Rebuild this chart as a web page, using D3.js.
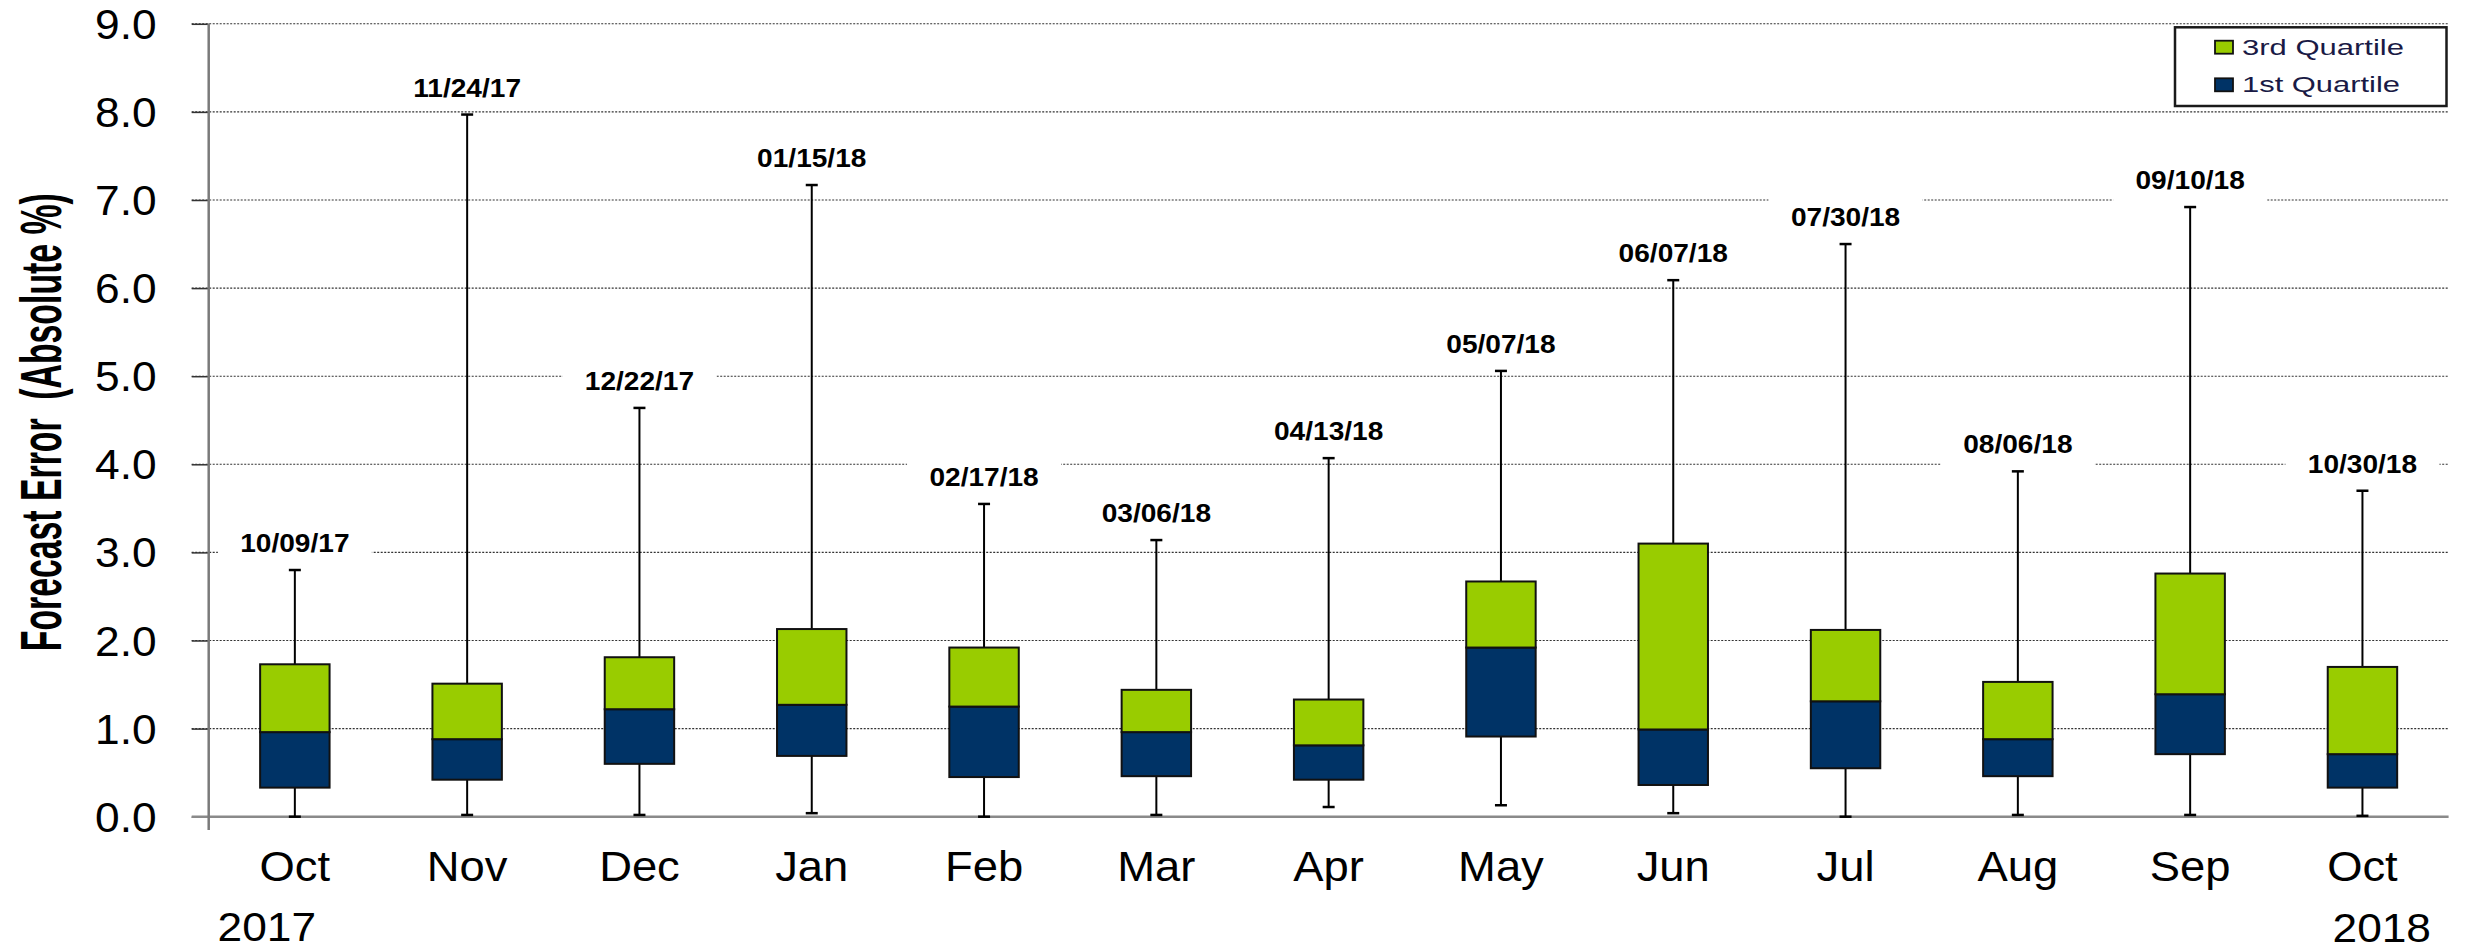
<!DOCTYPE html>
<html>
<head>
<meta charset="utf-8">
<script src="https://cdn.jsdelivr.net/npm/d3@7"></script>
<style>
  html, body { margin: 0; padding: 0; background: #fff; }
  svg { display: block; }
  text { font-family: "Liberation Sans", Arial, sans-serif; }
</style>
</head>
<body>
<svg id="chart" width="2466" height="952"></svg>
<script>
// ---- data ----
const months = ["Oct","Nov","Dec","Jan","Feb","Mar","Apr","May","Jun","Jul","Aug","Sep","Oct"];
const maxDates = ["10/09/17","11/24/17","12/22/17","01/15/18","02/17/18","03/06/18","04/13/18","05/07/18","06/07/18","07/30/18","08/06/18","09/10/18","10/30/18"];
const minVals    = [0.00, 0.02, 0.02, 0.04, 0.00, 0.02, 0.11, 0.13, 0.04, 0.00, 0.02, 0.02, 0.01];
const q1Vals     = [0.33, 0.42, 0.60, 0.69, 0.45, 0.46, 0.42, 0.91, 0.36, 0.55, 0.46, 0.71, 0.33];
const medianVals = [0.96, 0.88, 1.22, 1.27, 1.25, 0.96, 0.81, 1.92, 0.99, 1.31, 0.88, 1.39, 0.71];
const q3Vals     = [1.73, 1.51, 1.81, 2.13, 1.92, 1.44, 1.33, 2.67, 3.10, 2.12, 1.53, 2.76, 1.70];
const maxVals    = [2.80, 7.97, 4.64, 7.17, 3.55, 3.14, 4.07, 5.06, 6.09, 6.50, 3.92, 6.92, 3.70];
const yTicks = [0,1,2,3,4,5,6,7,8,9];
const yearLabels = ["2017","2018"];
const legendLabels = ["3rd Quartile","1st Quartile"];
const yTitle = "Forecast Error  (Absolute %)";

// ---- layout ----
const svg = d3.select("#chart");
const pL = 208.7, pR = 2448.6, pT = 23.8, pB = 816.7;
const x = d3.scaleBand().domain(d3.range(months.length)).range([pL, pR]).padding(0);
const y = d3.scaleLinear().domain([0, 9]).range([pB, pT]);
const boxW = x.bandwidth() * 0.403;
const cx = i => x(i) + x.bandwidth() / 2;
const GREEN = "#99CC00", NAVY = "#003366";

function stretchedText(g, tx, ty, str, opts) {
  const t = g.append("g").attr("transform", `translate(${tx},${ty}) scale(${opts.sx || 1},1)`)
    .append("text")
    .attr("x", 0).attr("y", 0)
    .attr("text-anchor", opts.anchor || "middle")
    .attr("font-size", opts.size)
    .attr("font-weight", opts.weight || "normal")
    .attr("fill", opts.fill || "#000")
    .text(str);
  if (opts.family) t.style("font-family", opts.family);
  return t;
}

// gridlines
const grid = svg.append("g");
grid.selectAll("line").data(yTicks.filter(d => d > 0)).join("line")
  .attr("x1", pL - 17).attr("x2", pR)
  .attr("y1", d => y(d)).attr("y2", d => y(d))
  .attr("stroke", "#333").attr("stroke-width", 1.1).attr("stroke-dasharray", "2,1.5");

// label background boxes (hide gridlines)
const labelBase = i => y(maxVals[i]) - 18;
svg.append("g").selectAll("rect").data(d3.range(months.length)).join("rect")
  .attr("x", i => cx(i) - 77).attr("width", 154)
  .attr("y", i => labelBase(i) - 30).attr("height", 42)
  .attr("fill", "#fff");

// y axis ticks + labels
const yAxis = d3.axisLeft(y).tickValues(yTicks).tickFormat(d3.format(".1f")).tickSize(17).tickPadding(35);
const yg = svg.append("g").attr("transform", `translate(${pL},0)`).call(yAxis);
yg.select(".domain").remove();
yg.selectAll(".tick line").attr("stroke", "#333").attr("stroke-width", 1.5);
yg.selectAll(".tick text")
  .attr("x", 0).attr("dy", null)
  .attr("dominant-baseline", "central")
  .attr("transform", "translate(-52,0) scale(1.055,1)")
  .attr("font-size", 42).attr("fill", "#000")
  .style("font-family", "'Liberation Sans', Arial, sans-serif");

// axis lines
svg.append("line").attr("x1", pL - 17).attr("x2", pR).attr("y1", y(0)).attr("y2", y(0))
  .attr("stroke", "#8a8a8a").attr("stroke-width", 2.5);
svg.append("line").attr("x1", pL).attr("x2", pL).attr("y1", y(9)).attr("y2", 830)
  .attr("stroke", "#7a7a7a").attr("stroke-width", 2.5);

// whiskers
const wg = svg.append("g").attr("stroke", "#000").attr("stroke-width", 2);
const idx = d3.range(months.length);
wg.selectAll(".wu").data(idx).join("line").attr("class", "wu")
  .attr("x1", cx).attr("x2", cx).attr("y1", i => y(q3Vals[i])).attr("y2", i => y(maxVals[i]));
wg.selectAll(".wl").data(idx).join("line").attr("class", "wl")
  .attr("x1", cx).attr("x2", cx).attr("y1", i => y(q1Vals[i])).attr("y2", i => y(minVals[i]));
wg.selectAll(".cu").data(idx).join("line").attr("class", "cu").attr("stroke-width", 2.5)
  .attr("x1", i => cx(i) - 6).attr("x2", i => cx(i) + 6).attr("y1", i => y(maxVals[i])).attr("y2", i => y(maxVals[i]));
wg.selectAll(".cl").data(idx).join("line").attr("class", "cl").attr("stroke-width", 2.5)
  .attr("x1", i => cx(i) - 6).attr("x2", i => cx(i) + 6).attr("y1", i => y(minVals[i])).attr("y2", i => y(minVals[i]));

// boxes
const bg = svg.append("g").attr("stroke", "#111").attr("stroke-width", 2);
bg.selectAll(".lo").data(idx).join("rect").attr("class", "lo")
  .attr("x", i => cx(i) - boxW / 2).attr("width", boxW)
  .attr("y", i => y(medianVals[i])).attr("height", i => y(q1Vals[i]) - y(medianVals[i]))
  .attr("fill", NAVY);
bg.selectAll(".hi").data(idx).join("rect").attr("class", "hi")
  .attr("x", i => cx(i) - boxW / 2).attr("width", boxW)
  .attr("y", i => y(q3Vals[i])).attr("height", i => y(medianVals[i]) - y(q3Vals[i]))
  .attr("fill", GREEN);

// max date labels
const lg = svg.append("g");
idx.forEach(i => {
  stretchedText(lg, cx(i), labelBase(i), maxDates[i], {size: 26.5, weight: "bold", sx: 1.06});
});

// month labels
const mg = svg.append("g");
idx.forEach(i => {
  stretchedText(mg, cx(i), 881, months[i], {size: 42, sx: 1.08});
});
stretchedText(mg, 217.6, 941, yearLabels[0], {size: 41, sx: 1.08, anchor: "start"});
stretchedText(mg, 2431, 942, yearLabels[1], {size: 41, sx: 1.08, anchor: "end"});

// y title (condensed along the text direction)
const titleG = svg.append("g")
  .attr("transform", `translate(61,${(pT + pB) / 2 + 2}) rotate(-90)`);
const titleT = titleG.append("text")
  .attr("text-anchor", "middle")
  .attr("font-size", 58).attr("font-weight", "bold")
  .style("font-family", "'Liberation Sans Narrow', 'Arial Narrow', 'Liberation Sans', sans-serif")
  .style("white-space", "pre")
  .text(yTitle);
const natW = titleT.node().getComputedTextLength();
titleT.attr("transform", `scale(${458 / natW},1)`);

// legend
const leg = svg.append("g");
leg.append("rect").attr("x", 2175).attr("y", 27.3).attr("width", 271.5).attr("height", 78.7)
  .attr("fill", "#fff").attr("stroke", "#1a1a1a").attr("stroke-width", 2.5);
const legColors = [GREEN, NAVY];
legendLabels.forEach((lab, k) => {
  const yy = 40.7 + k * 37.6;
  leg.append("rect").attr("x", 2215).attr("y", yy).attr("width", 18).attr("height", 13)
    .attr("fill", legColors[k]).attr("stroke", "#111").attr("stroke-width", 1.8);
  leg.append("text").attr("x", 2242).attr("y", yy + 13.8)
    .attr("font-size", 22).attr("fill", "#1a1a45")
    .attr("textLength", k === 0 ? 162 : 158).attr("lengthAdjust", "spacingAndGlyphs")
    .text(lab);
});
</script>
</body>
</html>
